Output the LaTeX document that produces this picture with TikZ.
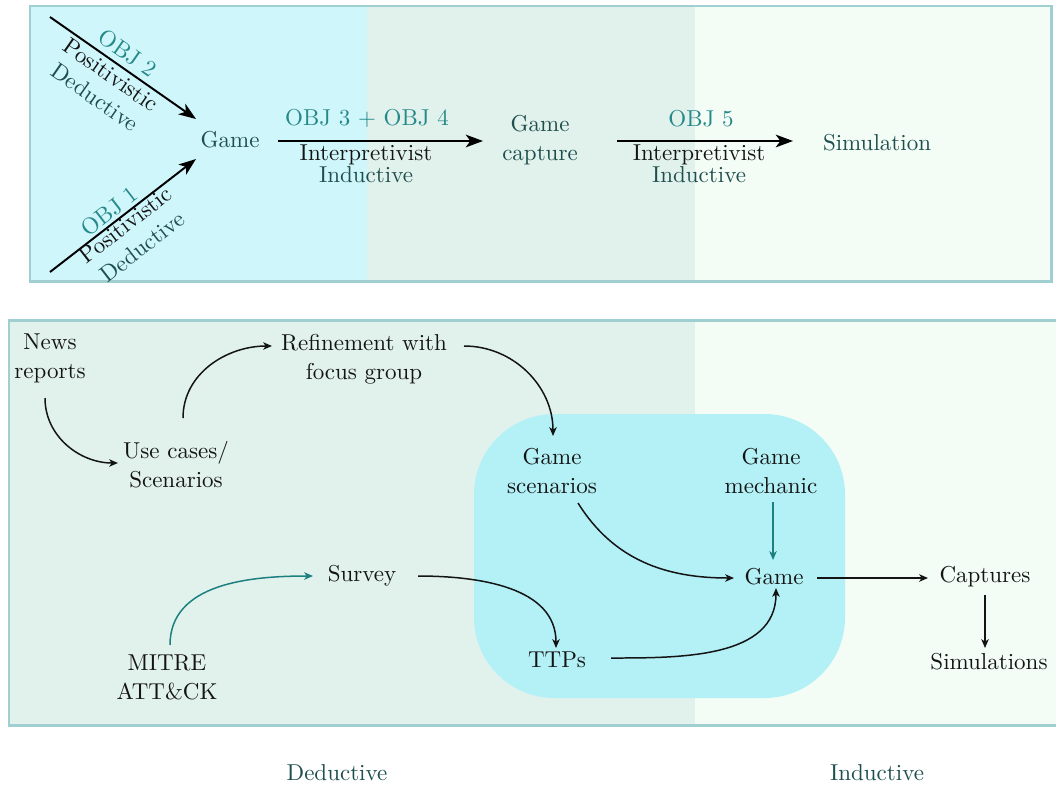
\documentclass[tikz,border=0pt]{standalone}
\usetikzlibrary{arrows.meta}
\definecolor{frameC}{RGB}{159,207,208}
\definecolor{cyanA}{RGB}{207,246,251}
\definecolor{mintA}{RGB}{225,242,236}
\definecolor{paleA}{RGB}{243,253,246}
\definecolor{blobC}{RGB}{179,241,247}
\definecolor{tealT}{RGB}{38,137,137}
\definecolor{darkT}{RGB}{30,78,78}
\definecolor{inkC}{RGB}{20,20,20}
\definecolor{tealL}{RGB}{28,128,128}
\begin{document}
\begin{tikzpicture}[x=0.4348pt,y=0.4348pt,
  lbl/.style={align=center,inner sep=0pt,text=inkC},
  dlbl/.style={align=center,inner sep=0pt,text=darkT},
  tlbl/.style={align=center,inner sep=0pt,text=tealT},
  bigarrow/.style={line width=0.85pt,-{Stealth[length=7.5pt,width=5.5pt,inset=2pt]}},
  smallarrow/.style={line width=0.65pt,draw=inkC,-{Stealth[length=3.8pt,width=3.2pt,inset=1pt]}},
  tealarrow/.style={smallarrow,draw=tealL},
  frame/.style={draw=frameC,line width=1.3pt}]
\useasboundingbox (0,0) rectangle (1056,-784);

% ---------- upper panel: background bands and frame ----------
\fill[cyanA] (30,-6) rectangle (367,-281);
\fill[mintA] (367,-6) rectangle (695,-281);
\fill[paleA] (695,-6) rectangle (1051,-281);
\draw[frame] (30,-6) rectangle (1051,-281);

% ---------- lower panel: background bands, cluster and frame ----------
\fill[mintA] (9,-320) rectangle (695,-725);
\fill[paleA] (695,-320) rectangle (1062,-725);
\fill[blobC,rounded corners=35pt] (474,-414) rectangle (845,-698);
\draw[frame] (9,-320) rectangle (1062,-725);

% ---------- upper panel: nodes ----------
\node[dlbl] (game) at (230,-140) {Game};
\node[dlbl] (gcap) at (540,-140) {Game\\[0.6pt]capture};
\node[dlbl] (sim) at (877,-143) {Simulation};
\coordinate (s2) at (50,-17);
\coordinate (s1) at (50,-272);

\draw[bigarrow] (s2) -- ([shift={(-34,21)}]game.center);
\draw[bigarrow] (s1) -- ([shift={(-34,-19)}]game.center);
\draw[bigarrow] ([shift={(48,-1)}]game.center) -- ([shift={(-57,-1)}]gcap.center);
\draw[bigarrow] ([shift={(77,-1)}]gcap.center) -- ([shift={(-84,2)}]sim.center);

% labels of the upper arrows
\node[tlbl,rotate=-34.9] (o2) at (128,-53) {OBJ 2};
\node[lbl,rotate=-34.9] (p2) at (103,-86) {Positivistic\\\textcolor{darkT}{Deductive}};
\node[tlbl,rotate=37.7] (o1) at (109,-211) {OBJ 1};
\node[lbl,rotate=37.7] (p1) at (134,-236) {Positivistic\\\textcolor{darkT}{Deductive}};
\node[tlbl] (o34) at (367,-118) {OBJ 3 + OBJ 4};
\node[lbl] (i34) at (366,-164) {Interpretivist\\[-2.5pt]\textcolor{darkT}{Inductive}};
\node[tlbl] (o5) at (701,-119) {OBJ 5};
\node[lbl] (i5) at (699,-164) {Interpretivist\\[-2.5pt]\textcolor{darkT}{Inductive}};

% ---------- lower panel: nodes ----------
\node[lbl] (news) at (50,-358) {News\\[0.6pt]reports};
\node[lbl] (ref) at (364,-359) {Refinement with\\[0.6pt]focus group};
\node[lbl] (uc) at (176,-465) {Use cases/\\[0.6pt]Scenarios};
\node[lbl] (survey) at (362,-576) {Survey};
\node[lbl] (mitre) at (167,-677) {MITRE\\[0.6pt]ATT\&CK};
\node[lbl] (gs) at (552,-471) {Game\\[0.6pt]scenarios};
\node[lbl] (gm) at (771,-471) {Game\\[0.6pt]mechanic};
\node[lbl] (gameB) at (774,-577) {Game};
\node[lbl] (ttps) at (557,-660) {TTPs};
\node[lbl] (capt) at (985,-577) {Captures};
\node[lbl] (sims) at (989,-662) {Simulations};

% ---------- lower panel: connectors ----------
\draw[smallarrow] ([shift={(-5,-40)}]news.center) to[out=-90,in=180] ([shift={(-58,2)}]uc.center);
\draw[smallarrow] ([shift={(7,47)}]uc.center) to[out=90,in=180] ([shift={(-92,13)}]ref.center);
\draw[smallarrow] ([shift={(100,13)}]ref.center) to[out=0,in=90] ([shift={(1,35)}]gs.center);
\draw[smallarrow] ([shift={(26,-32)}]gs.center) to[out=-58,in=180] ([shift={(-40,-1)}]gameB.center);
\draw[tealarrow] ([shift={(-1,-31)}]gameB.center |- gm.center) -- ([shift={(-1,17)}]gameB.center);
\draw[smallarrow] ([shift={(56,0)}]survey.center) to[out=0,in=90] ([shift={(-1,12)}]ttps.center);
\draw[tealarrow] ([shift={(3,32)}]mitre.center) to[out=90,in=180] ([shift={(-49,0)}]survey.center);
\draw[smallarrow] ([shift={(54,2)}]ttps.center) to[out=0,in=-90] ([shift={(2,-11)}]gameB.center);
\draw[smallarrow] ([shift={(43,-1)}]gameB.center) -- ([shift={(-57,-1)}]capt.center);
\draw[smallarrow] ([shift={(0,-18)}]capt.center) -- ([shift={(0,14)}]capt.center |- sims.center);

% ---------- bottom captions ----------
\node[dlbl] (ded) at (337,-773) {Deductive};
\node[dlbl] (ind) at (877,-773) {Inductive};
\end{tikzpicture}
\end{document}
